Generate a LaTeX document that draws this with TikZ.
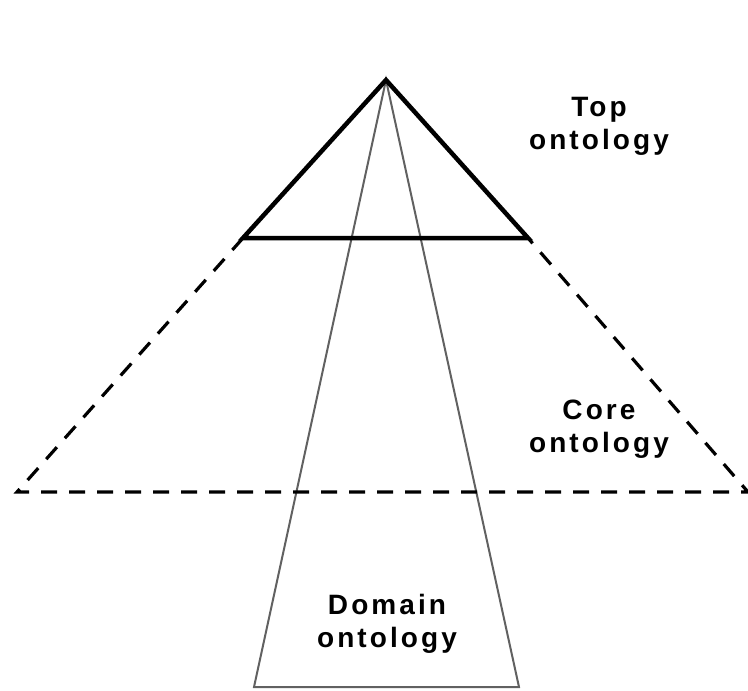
\documentclass[tikz,border=0pt]{standalone}
\usepackage{fontspec}
\setmainfont{Liberation Sans}
\newfontfamily\lblfont[LetterSpace=11]{Liberation Sans}
\begin{document}
\begin{tikzpicture}[x=1pt,y=-1pt,
  toptri/.style={line width=4.5pt, line join=miter, black},
  coretri/.style={line width=3.2pt, dash pattern=on 16pt off 12pt, black},
  domtri/.style={line width=2pt, color=black!62},
  lbl/.style={font=\lblfont\bfseries\fontsize{28}{33}\selectfont, align=center, inner sep=0pt}]
\useasboundingbox (0,0) rectangle (748,691);
\coordinate (apex) at (386,80);
\coordinate (tl) at (243,238);
\coordinate (tr) at (528,238);
\coordinate (cl) at (17,492);
\coordinate (cr) at (748,492);
\coordinate (dl) at (254,687);
\coordinate (dr) at (519,687);
\draw[domtri] (apex) -- (dl) -- (dr) -- cycle;
\draw[coretri] (tl) -- (cl) -- (cr) -- (tr);
\draw[toptri] (apex) -- (tl) -- (tr) -- cycle;
\node[lbl] (top) at (599,126) {Top\\ontology};
\node[lbl] (core) at (599,429) {Core\\ontology};
\node[lbl] (dom) at (387,624) {Domain\\ontology};
\end{tikzpicture}
\end{document}
